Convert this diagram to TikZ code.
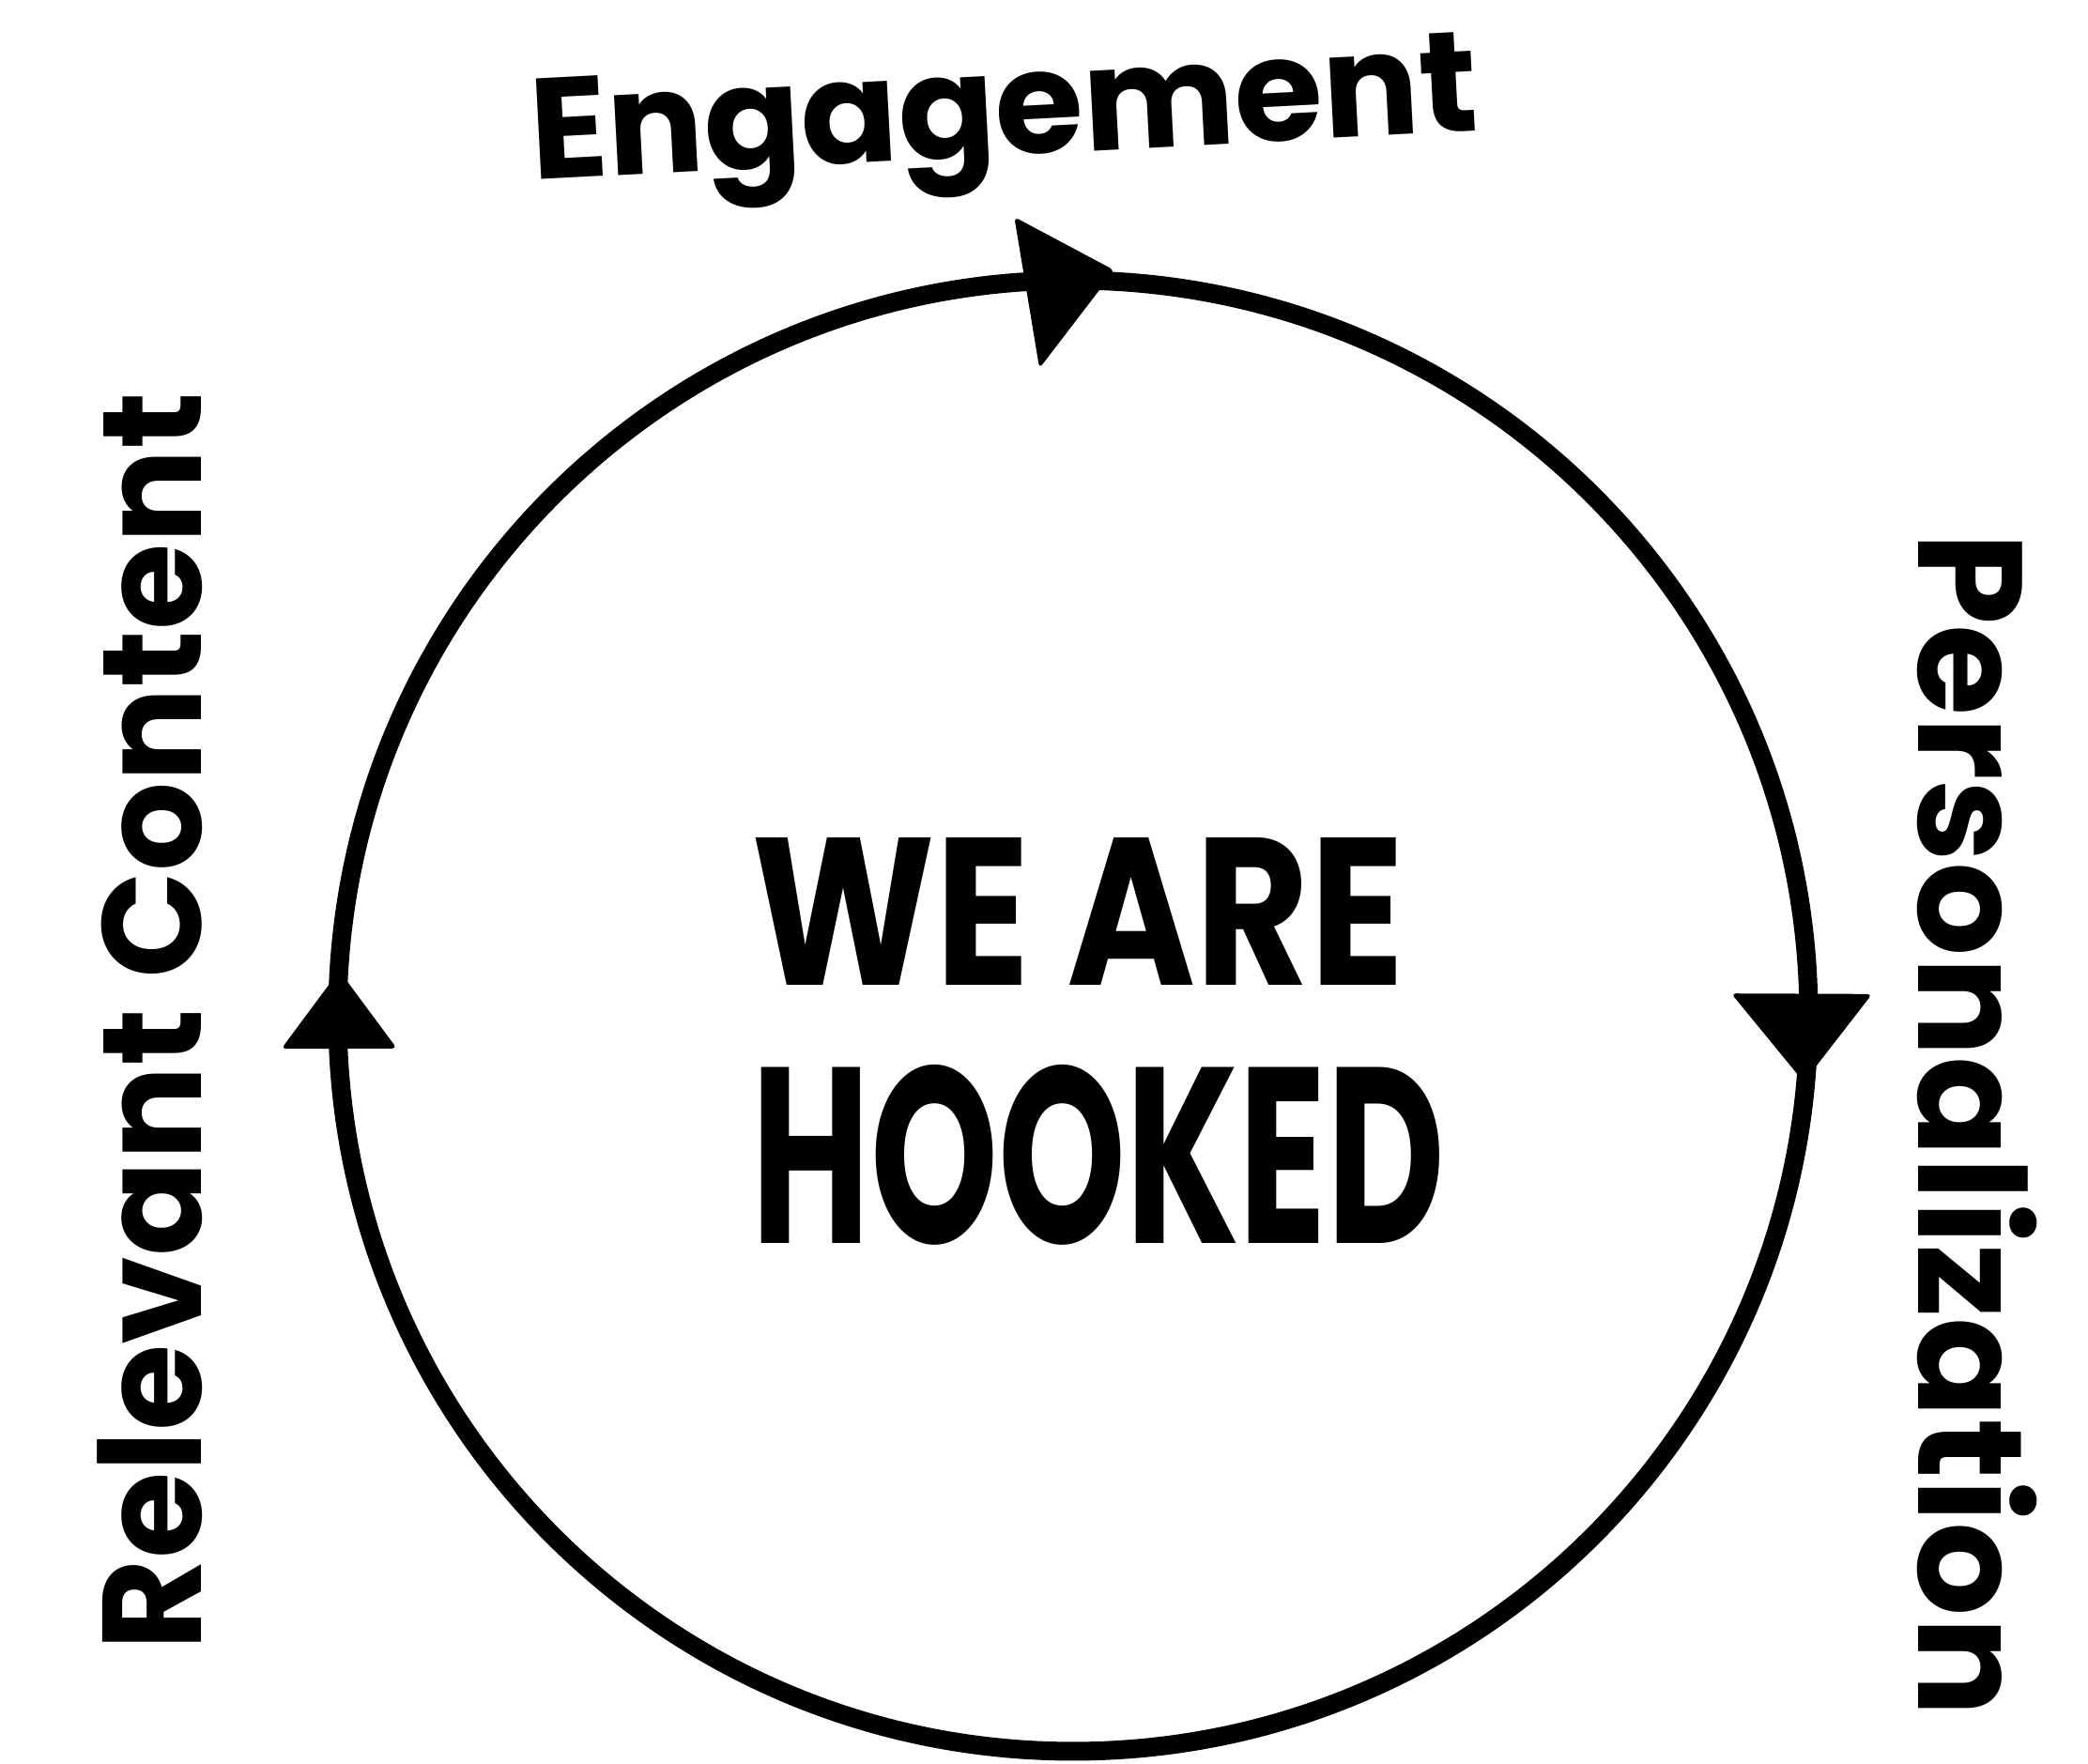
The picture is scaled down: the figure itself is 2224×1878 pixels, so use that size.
\documentclass[tikz,border=0pt]{standalone}
\usepackage{fontspec}
\setmainfont{Poppins}
\begin{document}
\begin{tikzpicture}[x=0.01cm,y=0.01cm,
  ring/.style={circle,draw,line width=0.2cm,minimum size=15.66cm,inner sep=0pt,outer sep=0pt},
  lbl/.style={inner sep=0pt,font=\bfseries},
  head/.style={fill=black,rounded corners=0.05cm}]
\path[use as bounding box] (0,0) rectangle (2224,1878);
\node[ring] (loop) at (1143,796) {};
% arrowheads (clockwise); local x = direction of travel, local y = outward
\begin{scope}[shift={(loop.91.7)},rotate=1.7]
  \fill[head] (58,9) -- (-47,69) -- (-25,-93) -- cycle;
\end{scope}
\begin{scope}[shift={(loop.-1)},rotate=-91]
  \fill[head] (57,-4) -- (-38,67) -- (-36,-83) -- cycle;
\end{scope}
\begin{scope}[shift={(loop.180.2)},rotate=90.2]
  \fill[head] (48,-2) -- (-35,60) -- (-35,-63) -- cycle;
\end{scope}
\node[lbl,rotate=3] (eng) at (1070,1745) {\resizebox{10.1cm}{!}{Engagement}};
\node[lbl,rotate=90] (rel) at (160,790) {\resizebox{13.4cm}{!}{Relevant Content}};
\node[lbl,rotate=-90] (per) at (2106,680) {\resizebox{12.6cm}{!}{Personalization}};
\node[lbl] (we) at (1148,907) {\resizebox{6.95cm}{1.57cm}{WE ARE}};
\node[lbl] (hk) at (1170,648) {\resizebox{7.38cm}{1.9cm}{HOOKED}};
\end{tikzpicture}
\end{document}
